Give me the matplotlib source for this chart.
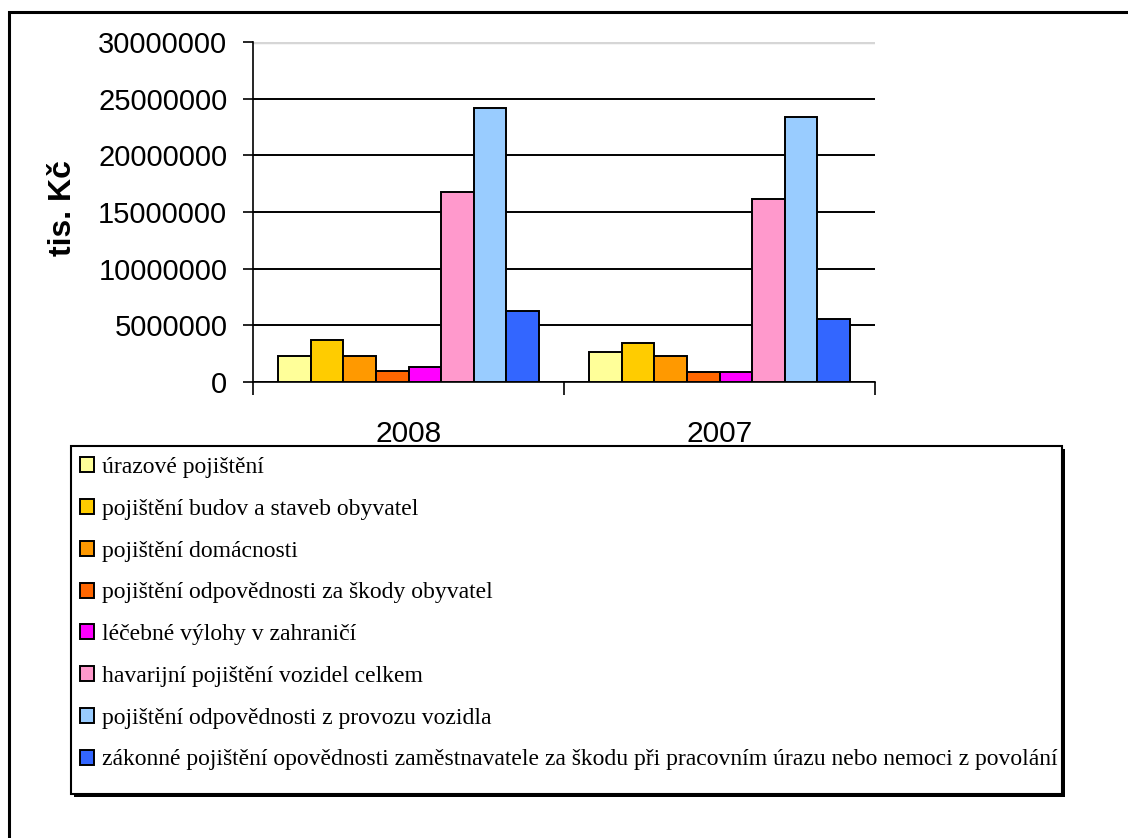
#!/usr/bin/env python3

import numpy as np
import matplotlib
matplotlib.use("Agg")
import matplotlib.pyplot as plt
from matplotlib.patches import Rectangle
from matplotlib.ticker import FuncFormatter

years = ["2008", "2007"]
categories = [
    "úrazové pojištění",
    "pojištění budov a staveb obyvatel",
    "pojištění domácnosti",
    "pojištění odpovědnosti za škody obyvatel",
    "léčebné výlohy v zahraničí",
    "havarijní pojištění vozidel celkem",
    "pojištění odpovědnosti z provozu vozidla",
    "zákonné pojištění opovědnosti zaměstnavatele za škodu při pracovním úrazu nebo nemoci z povolání",
]
values_2008 = [2310000, 3710000, 2310000, 960000, 1340000, 16750000, 24200000, 6230000]
values_2007 = [2690000, 3480000, 2310000, 900000, 900000, 16170000, 23400000, 5590000]
colors = ["#FFFF99", "#FFCC00", "#FF9900", "#FF6600", "#FF00FF", "#FF99CC", "#99CCFF", "#3366FF"]

W, H = 1128, 838
fig = plt.figure(figsize=(W / 100, H / 100), dpi=100)

# outer frame of the chart object (runs off the right and bottom edges)
fig.patches.append(Rectangle((9 / W, -0.1), 1.2, (H - 12) / H + 0.1, transform=fig.transFigure,
                             fill=False, edgecolor="black", linewidth=2.2, zorder=-5))

ax = fig.add_axes([253 / W, 1 - 382 / H, 622 / W, 340 / H])

x = np.arange(len(years))
bw = 0.105
data = np.array([values_2008, values_2007])
bars = []
for i, (cat, col) in enumerate(zip(categories, colors)):
    b = ax.bar(x + (i - 3.5) * bw, data[:, i], bw, color=col, edgecolor="black",
               linewidth=1.4, label=cat, zorder=3)
    bars.append(b)

ax.set_xlim(-0.5, 1.5)
ax.set_ylim(0, 30000000)
ax.set_yticks(np.arange(0, 30000001, 5000000))
ax.yaxis.set_major_formatter(FuncFormatter(lambda v, p: f"{v:.0f}"))
ax.grid(axis="y", color="black", linewidth=1.4, zorder=0)
top = ax.get_ygridlines()[-1]
top.set_color("#D6D6D6")
top.set_linewidth(2.5)

for s in ["top", "right"]:
    ax.spines[s].set_visible(False)
ax.spines["left"].set_linewidth(1.2)
ax.spines["bottom"].set_linewidth(1.2)

ax.set_xticks(x)
ax.set_xticklabels(years, fontsize=21.5, family="Liberation Sans")
ax.tick_params(axis="x", which="major", length=0, pad=27.5)
ax.set_xticks([-0.5, 0.5, 1.5], minor=True)
ax.tick_params(axis="x", which="minor", length=9, width=1.2, direction="out")
ax.tick_params(axis="y", length=7.5, width=1.2, pad=11, labelsize=21)
for t in ax.get_yticklabels():
    t.set_family("Liberation Sans")

ax.set_ylabel("tis. Kč", fontsize=23, fontweight="bold", family="Liberation Sans")
ax.yaxis.set_label_coords(-0.281, 0.512)

# legend box with shadow
lx0, ly0, lx1, ly1 = 71, 446, 1062, 794
fig.patches.append(Rectangle(((lx0 + 3) / W, 1 - (ly1 + 3) / H), (lx1 - lx0) / W, (ly1 - ly0) / H,
                             transform=fig.transFigure, facecolor="black", edgecolor="none",
                             zorder=-4))
fig.patches.append(Rectangle((lx0 / W, 1 - ly1 / H), (lx1 - lx0) / W, (ly1 - ly0) / H,
                             transform=fig.transFigure, facecolor="white", edgecolor="black",
                             linewidth=1.5, zorder=-3))

fig.legend(handles=bars, labels=categories, loc="upper left",
           bbox_to_anchor=(80 / W, 1 - 457 / H), frameon=False, borderaxespad=0, borderpad=0,
           prop={"family": "Liberation Serif", "size": 17},
           handlelength=0.6, handleheight=0.6, handletextpad=0.34, labelspacing=0.88)

fig.savefig("out.png", dpi=100)
